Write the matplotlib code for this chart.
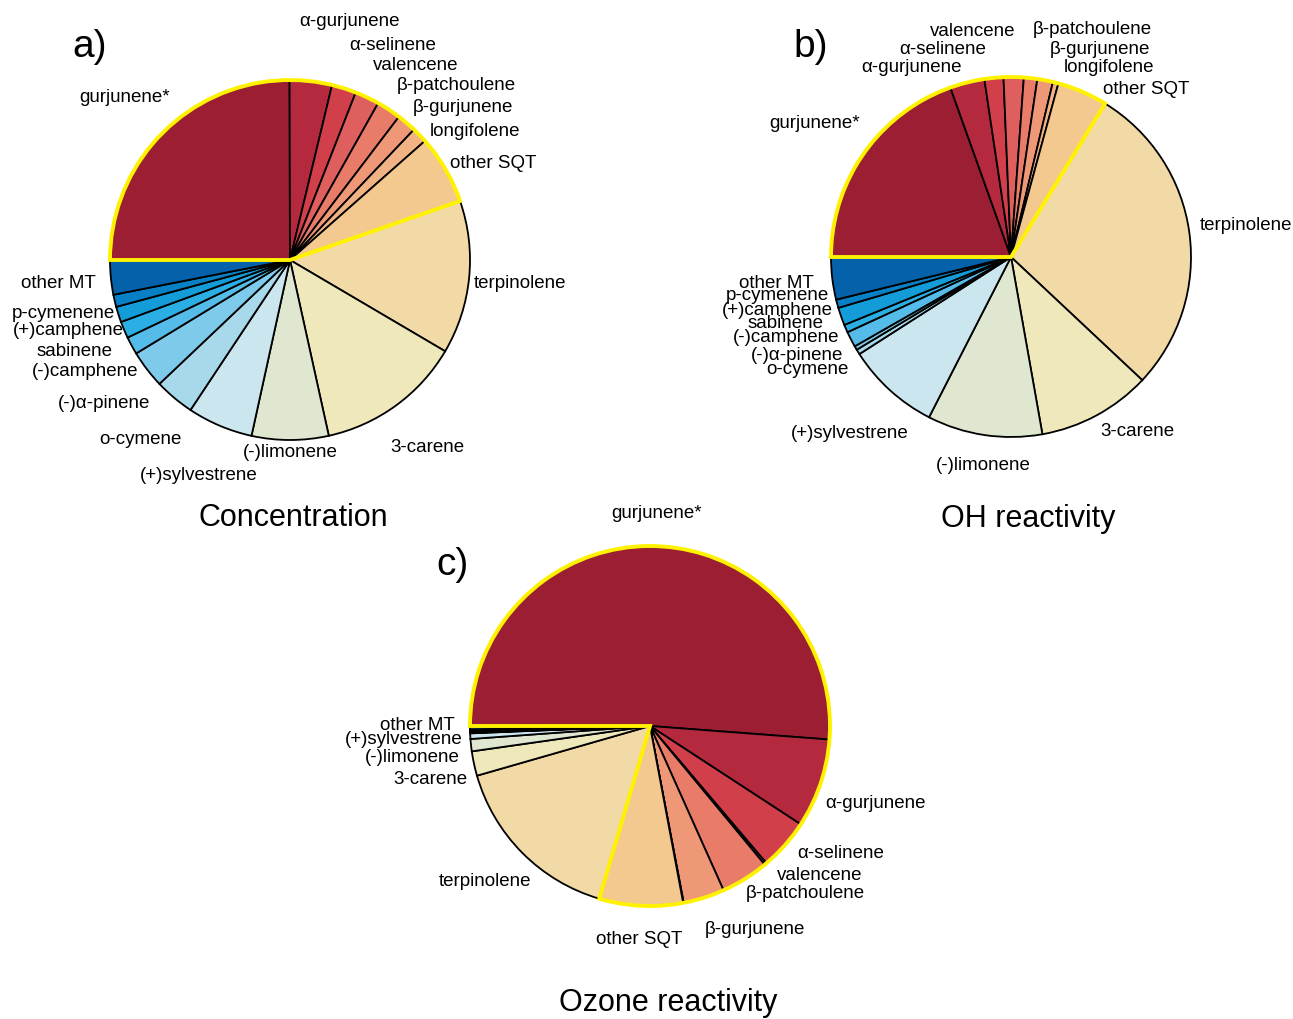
import matplotlib
matplotlib.use("Agg")
import matplotlib.pyplot as plt
from matplotlib.patches import Wedge

W, H = 1293, 1019
plt.rcParams["font.family"] = ["Liberation Sans", "DejaVu Sans"]

# compounds, clockwise from 9 o'clock; first N_SQT are sesquiterpenes
compounds = ["gurjunene*", "α-gurjunene", "α-selinene", "valencene",
             "β-patchoulene", "β-gurjunene", "longifolene", "other SQT",
             "terpinolene", "3-carene", "(-)limonene", "(+)sylvestrene",
             "o-cymene", "(-)α-pinene", "(-)camphene", "sabinene",
             "(+)camphene", "p-cymenene", "other MT"]
N_SQT = 8

# share of total (%)
concentration = [25.0, 3.8, 2.2, 2.2, 2.2, 1.75, 1.4, 6.2,
                 13.8, 13.1, 6.9, 5.9, 3.6, 3.4, 1.6, 1.5, 1.4, 1.1, 3.1]
oh_reactivity = [19.5, 3.1, 1.7, 1.8, 1.2, 1.4, 0.5, 4.5,
                 28.2, 10.2, 10.3, 8.4, 0.45, 0.35, 1.4, 0.7, 1.6, 0.75, 3.8]
ozone_reactivity = [51.2, 8.0, 4.6, 0.2, 4.3, 3.7, 0.05, 7.5,
                    16.0, 2.2, 1.1, 0.5, 0.05, 0.1, 0.05, 0.05, 0.05, 0.05, 0.3]

colors = ["#9B1E33", "#B5293F", "#D1404A", "#DF5F5E", "#E97B69", "#EE9877",
          "#F2B384", "#F3C990", "#F2DAA6", "#EFE8BA", "#DFE7D0", "#CBE6EF",
          "#A7D9EB", "#7DCAEA", "#55BCE9", "#2AAEE3", "#139CD8", "#0880C5",
          "#0461AA"]

# label positions in pixels
labels_a = {
    "gurjunene*": (125, 97), "α-gurjunene": (350, 21), "α-selinene": (393, 46),
    "valencene": (416, 66), "β-patchoulene": (456, 85), "β-gurjunene": (463, 108),
    "longifolene": (475, 131), "other SQT": (493, 164), "terpinolene": (520, 283),
    "3-carene": (427, 448), "(-)limonene": (290, 452), "(+)sylvestrene": (199, 475),
    "o-cymene": (140, 440), "(-)α-pinene": (104, 404), "(-)camphene": (85, 372),
    "sabinene": (75, 351), "(+)camphene": (68, 331), "p-cymenene": (63, 314),
    "other MT": (58, 284),
}
labels_b = {
    "gurjunene*": (815, 124), "α-gurjunene": (911, 68), "α-selinene": (943, 49),
    "valencene": (973, 32), "β-patchoulene": (1092, 30), "β-gurjunene": (1100, 49),
    "longifolene": (1109, 67), "other SQT": (1146, 89), "terpinolene": (1246, 225),
    "3-carene": (1137, 432), "(-)limonene": (983, 465), "(+)sylvestrene": (850, 434),
    "o-cymene": (807, 370), "(-)α-pinene": (797, 356), "(-)camphene": (786, 338),
    "sabinene": (786, 324), "(+)camphene": (777, 310), "p-cymenene": (777, 296),
    "other MT": (776, 284),
}
labels_c = {
    "gurjunene*": (657, 514), "α-gurjunene": (875, 804), "α-selinene": (841, 853),
    "valencene": (820, 876), "β-patchoulene": (805, 894), "β-gurjunene": (755, 929),
    "other SQT": (639, 940), "terpinolene": (485, 882), "3-carene": (430, 779),
    "(-)limonene": (412, 757), "(+)sylvestrene": (404, 740), "other MT": (417, 725),
}

R = 180
PAD = 1.05

fig = plt.figure(figsize=(W / 100, H / 100), dpi=100, facecolor="white")


def draw_pie(cx, cy, values, label_pos, title, title_xy, letter, letter_xy):
    r = R * PAD
    ax = fig.add_axes([(cx - r) / W, 1 - (cy + r) / H, 2 * r / W, 2 * r / H])
    ax.pie(values, colors=colors, startangle=180, counterclock=False,
           radius=1, wedgeprops=dict(edgecolor="black", linewidth=1.3))
    # outline around the sesquiterpene group
    sqt_deg = sum(values[:N_SQT]) / sum(values) * 360
    ax.add_patch(Wedge((0, 0), 1, 180 - sqt_deg, 180, fill=False,
                       edgecolor="#FFF200", linewidth=2.8, zorder=5))
    ax.set_xlim(-PAD, PAD)
    ax.set_ylim(-PAD, PAD)
    ax.axis("off")

    for name, (x, y) in label_pos.items():
        fig.text(x / W, 1 - y / H, name, ha="center", va="center",
                 fontsize=13.5, color="black")
    fig.text(title_xy[0] / W, 1 - title_xy[1] / H, title,
             ha="center", va="center", fontsize=22)
    fig.text(letter_xy[0] / W, 1 - letter_xy[1] / H, letter,
             ha="center", va="center", fontsize=28)


draw_pie(290, 260, concentration, labels_a, "Concentration", (293, 518), "a)", (90, 47))
draw_pie(1011, 257, oh_reactivity, labels_b, "OH reactivity", (1028, 519), "b)", (811, 47))
draw_pie(650, 726, ozone_reactivity, labels_c, "Ozone reactivity", (668, 1003), "c)", (452, 565))

fig.savefig("out.png", dpi=100, facecolor="white")
